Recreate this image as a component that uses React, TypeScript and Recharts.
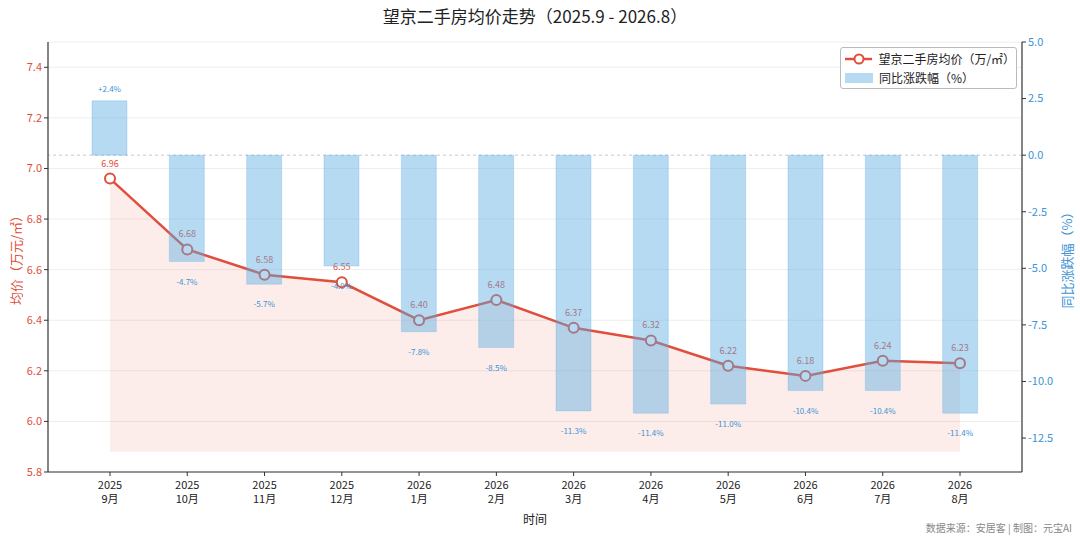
import {
  ComposedChart,
  Bar,
  Line,
  Area,
  XAxis,
  YAxis,
  CartesianGrid,
  ReferenceLine,
  LabelList,
} from 'recharts';

const years = ['2025', '2025', '2025', '2025', '2026', '2026', '2026', '2026', '2026', '2026', '2026', '2026'];
const months = ['9月', '10月', '11月', '12月', '1月', '2月', '3月', '4月', '5月', '6月', '7月', '8月'];
const prices = [6.96, 6.68, 6.58, 6.55, 6.4, 6.48, 6.37, 6.32, 6.22, 6.18, 6.24, 6.23];
const changes = [2.4, -4.7, -5.7, -4.9, -7.8, -8.5, -11.3, -11.4, -11.0, -10.4, -10.4, -11.4];
const priceTicks = [5.8, 6.0, 6.2, 6.4, 6.6, 6.8, 7.0, 7.2, 7.4];
const changeTicks = [-12.5, -10, -7.5, -5, -2.5, 0, 2.5, 5];
const areaBase = 5.88;

const data = months.map((m, i) => ({
  label: `${years[i]}|${m}`,
  price: prices[i],
  change: changes[i],
}));

const FONT = '"Noto Sans CJK SC", "Noto Sans", sans-serif';
const RED = '#e04e3c';
const BLUE = '#5dade2';
const BLUE_TEXT = '#3d93d3';
const W = 1080;
const H = 542;

const XTick = (props: any) => {
  const { x, y, payload } = props;
  const [yr, mo] = String(payload.value).split('|');
  return (
    <text x={x} y={y} textAnchor="middle" fill="#222" fontSize={11} fontFamily={FONT}>
      <tspan x={x} dy={11}>{yr}</tspan>
      <tspan x={x} dy={14}>{mo}</tspan>
    </text>
  );
};

const PriceLabel = (props: any) => {
  const { x, y, value } = props;
  return (
    <text x={x} y={y - 12} textAnchor="middle" fontSize={9} fontFamily={FONT} fill={RED}>
      {Number(value).toFixed(2)}
    </text>
  );
};

const PctLabel = (props: any) => {
  const { x, y, width, height, value } = props;
  const v = Number(value);
  const top = Math.min(y, y + height);
  const bottom = Math.max(y, y + height);
  const ty = v >= 0 ? top - 9 : bottom + 23;
  return (
    <text x={x + width / 2} y={ty} textAnchor="middle" fontSize={8} fontFamily={FONT} fill={BLUE_TEXT}>
      {v > 0 ? `+${v.toFixed(1)}%` : `${v.toFixed(1)}%`}
    </text>
  );
};

const LegendBox = () => (
  <div
    style={{
      position: 'absolute',
      left: 840,
      top: 47,
      width: 177,
      boxSizing: 'border-box',
      border: '1px solid #bbb',
      borderRadius: 3,
      background: 'rgba(255,255,255,0.9)',
      padding: '1px 4px',
      fontSize: 12,
      fontFamily: FONT,
      color: '#222',
      lineHeight: '19px',
    }}
  >
    <div style={{ display: 'flex', alignItems: 'center' }}>
      <svg width={28} height={12}>
        <line x1={0} y1={6} x2={28} y2={6} stroke={RED} strokeWidth={2.5} />
        <circle cx={14} cy={6} r={4.5} fill="#fff" stroke={RED} strokeWidth={2} />
      </svg>
      <span style={{ marginLeft: 6 }}>望京二手房均价（万/㎡）</span>
    </div>
    <div style={{ display: 'flex', alignItems: 'center' }}>
      <svg width={28} height={12}>
        <rect x={0} y={1} width={28} height={10} fill={BLUE} fillOpacity={0.45} />
      </svg>
      <span style={{ marginLeft: 6 }}>同比涨跌幅（%）</span>
    </div>
  </div>
);

export default function App() {
  return (
    <div style={{ position: 'absolute', left: 0, top: 0, width: W, height: H, background: '#fff', fontFamily: FONT }}>
      <div style={{ position: 'absolute', top: 3, left: 0, width: 1070, textAlign: 'center', fontSize: 17, color: '#222' }}>
        望京二手房均价走势（2025.9 - 2026.8）
      </div>
      {/* base layer: axes, grid, price area and line */}
      <div style={{ position: 'absolute', left: 0, top: 0 }}>
        <ComposedChart width={W} height={H} data={data} margin={{ top: 42, right: 0, bottom: 30, left: 0 }}>
          <CartesianGrid yAxisId="left" vertical={false} stroke="#eeeeee" />
          <XAxis
            dataKey="label"
            tick={<XTick />}
            tickLine={{ stroke: '#333' }}
            tickSize={4}
            axisLine={{ stroke: '#333', strokeWidth: 1.2 }}
            interval={0}
            height={40}
            padding={{ left: 62, right: 62 }}
          />
          <XAxis xAxisId="top" dataKey="label" orientation="top" height={0} tick={false} tickLine={false} axisLine={{ stroke: '#333', strokeWidth: 1.2 }} />
          <YAxis
            yAxisId="left"
            domain={[5.8, 7.5]}
            ticks={priceTicks}
            tickFormatter={(v: number) => v.toFixed(1)}
            tick={{ fill: RED, fontSize: 11, fontFamily: FONT }}
            tickLine={{ stroke: '#333' }}
            tickSize={4}
            axisLine={{ stroke: '#333', strokeWidth: 1.2 }}
            width={48}
            allowDataOverflow
          />
          <YAxis
            yAxisId="right"
            orientation="right"
            domain={[-14, 5]}
            ticks={changeTicks}
            tickFormatter={(v: number) => v.toFixed(1)}
            tick={{ fill: BLUE_TEXT, fontSize: 11, fontFamily: FONT }}
            tickLine={{ stroke: '#333' }}
            tickSize={4}
            axisLine={{ stroke: '#333', strokeWidth: 1.2 }}
            width={58}
            allowDataOverflow
          />
          <ReferenceLine yAxisId="right" y={0} stroke="#bbb" strokeDasharray="3 3" strokeWidth={0.8} />
          <Area
            yAxisId="left"
            dataKey="price"
            baseValue={areaBase}
            fill={RED}
            fillOpacity={0.1}
            stroke="none"
            isAnimationActive={false}
          />
          <Line
            yAxisId="left"
            dataKey="price"
            stroke={RED}
            strokeWidth={2.5}
            dot={{ r: 5, fill: '#fff', stroke: RED, strokeWidth: 2 }}
            activeDot={false}
            isAnimationActive={false}
          >
            <LabelList dataKey="price" content={<PriceLabel />} />
          </Line>
        </ComposedChart>
      </div>
      {/* overlay: translucent change bars drawn over the line */}
      <div style={{ position: 'absolute', left: 0, top: 0, pointerEvents: 'none' }}>
        <ComposedChart width={W} height={H} data={data} margin={{ top: 42, right: 58, bottom: 70, left: 48 }}>
          <XAxis dataKey="label" hide padding={{ left: 23, right: 23 }} />
          <YAxis yAxisId="right" hide domain={[-14, 5]} allowDataOverflow />
          <Bar
            yAxisId="right"
            dataKey="change"
            barSize={35}
            fill={BLUE}
            fillOpacity={0.45}
            stroke={BLUE}
            strokeOpacity={0.35}
            strokeWidth={0.8}
            isAnimationActive={false}
          >
            <LabelList dataKey="change" content={<PctLabel />} />
          </Bar>
        </ComposedChart>
      </div>
      <LegendBox />
      <div
        style={{
          position: 'absolute',
          left: 15,
          top: 257,
          transform: 'translate(-50%, -50%) rotate(-90deg)',
          whiteSpace: 'nowrap',
          fontSize: 13,
          color: RED,
        }}
      >
        均价（万元/㎡）
      </div>
      <div
        style={{
          position: 'absolute',
          left: 1066,
          top: 257,
          transform: 'translate(-50%, -50%) rotate(-90deg)',
          whiteSpace: 'nowrap',
          fontSize: 13,
          color: BLUE_TEXT,
        }}
      >
        同比涨跌幅（%）
      </div>
      <div style={{ position: 'absolute', left: 0, width: 1070, top: 510, textAlign: 'center', fontSize: 12, color: '#222' }}>
        时间
      </div>
      <div style={{ position: 'absolute', right: 8, top: 520, fontSize: 10, color: '#888' }}>
        数据来源：安居客 | 制图：元宝AI
      </div>
    </div>
  );
}
